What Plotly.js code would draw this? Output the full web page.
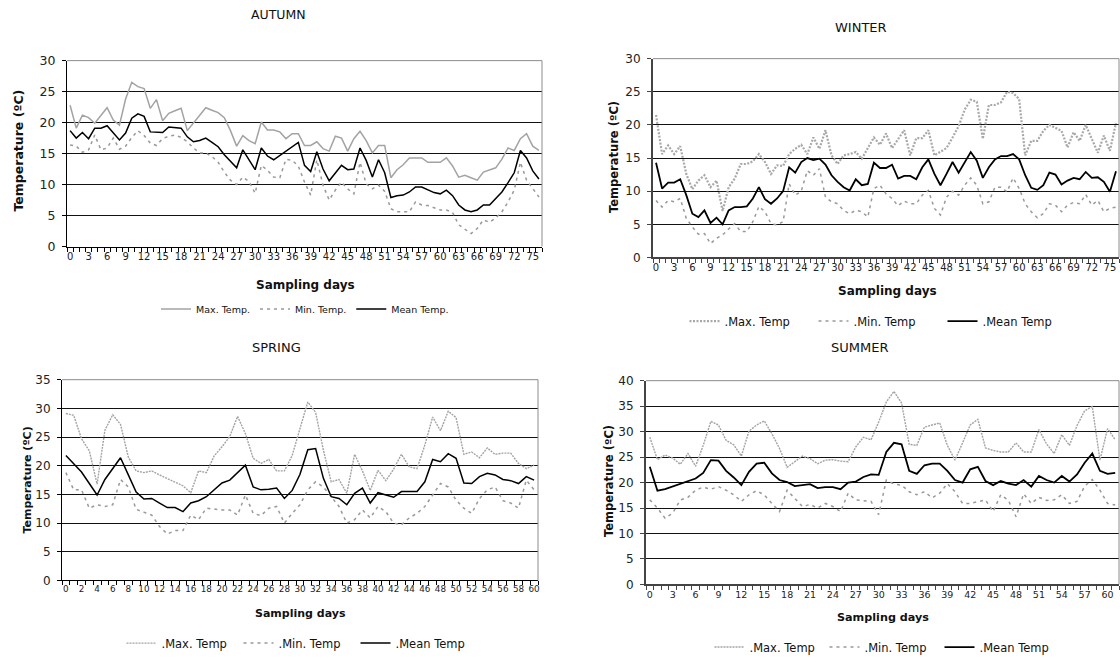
<!DOCTYPE html>
<html>
<head>
<meta charset="utf-8">
<script src="https://cdn.plot.ly/plotly-3.0.1.min.js"></script>
<style>html,body{margin:0;padding:0;background:#fff;}#chart{width:1120px;height:662px;}</style>
</head>
<body>
<div id="chart"></div>
<script>
// ---------------- DATA ----------------
var seasonTitles = ["AUTUMN", "WINTER", "SPRING", "SUMMER"];
var xTitle = "Sampling days";
var yTitle = "Temperature (ºC)";
var autumnNames = ["Max. Temp.", "Min. Temp.", "Mean Temp."];
var otherNames = [".Max. Temp", ".Min. Temp", ".Mean Temp"];

var autumnMax = [22.8,19.1,21.2,20.8,19.9,21.1,22.4,20.4,19.6,23.8,
  26.5,25.8,25.5,22.3,23.7,20.3,21.5,21.9,22.3,18.7,
  19.9,21.2,22.4,22.0,21.6,20.8,18.7,16.2,17.9,17.1,
  16.6,20.1,18.8,18.8,18.5,17.4,18.2,18.2,16.3,16.3,
  16.9,15.8,15.4,17.8,17.5,15.4,17.4,18.6,17.1,15.1,
  16.3,16.3,11.1,12.4,13.2,14.3,14.3,14.3,13.6,13.6,
  13.6,14.3,13.0,11.2,11.5,11.1,10.7,12.0,12.4,12.7,
  14.1,15.9,15.5,17.4,18.2,16.2,15.5];
var autumnMin = [16.4,16.2,15.2,15.6,18.0,15.6,15.9,17.5,15.7,16.2,
  17.6,18.7,17.9,16.7,16.3,17.4,17.8,18.0,17.6,16.9,
  15.9,15.1,15.1,14.5,13.6,12.0,10.7,10.0,11.2,10.5,
  8.6,13.1,12.3,11.2,11.1,14.1,13.9,13.0,10.4,8.3,
  14.0,9.9,7.5,9.1,10.4,9.3,8.5,13.6,10.1,9.3,
  9.9,8.9,6.1,5.6,5.6,5.6,7.2,6.7,6.6,6.2,
  5.9,5.9,5.5,3.5,2.8,2.1,2.9,4.3,3.9,4.6,
  5.6,7.2,9.1,13.6,10.7,9.3,8.0];
var autumnMean = [18.7,17.5,18.4,17.4,19.1,19.1,19.5,18.3,17.2,18.3,
  20.7,21.4,21.0,18.5,18.5,18.4,19.3,19.2,19.1,17.7,
  16.9,17.1,17.5,16.8,16.1,14.8,13.7,12.7,15.6,14.0,
  12.4,15.9,14.6,14.0,14.7,15.5,16.1,16.8,13.1,12.1,
  15.3,12.5,10.6,11.9,13.1,12.4,12.5,15.9,13.9,11.2,
  14.0,11.9,7.9,8.2,8.3,8.8,9.6,9.6,9.2,8.7,
  8.5,9.1,8.2,6.7,5.9,5.6,5.9,6.7,6.7,7.7,
  8.8,10.3,11.9,15.5,14.3,12.2,10.9];

var winterMax = [21.5,15.6,16.9,15.6,16.8,12.6,10.3,11.6,12.4,10.6,
  11.6,7.0,10.6,11.9,14.1,14.1,14.5,15.6,14.4,12.6,
  13.9,13.8,15.6,16.4,17.0,15.6,18.1,16.4,19.2,15.4,
  14.1,15.4,15.6,15.9,14.9,16.6,18.1,17.0,18.7,16.5,
  17.9,19.2,15.4,18.0,18.0,19.2,15.4,16.0,16.5,18.1,
  19.8,22.3,23.8,23.5,17.9,23.0,23.0,23.4,25.0,24.8,
  23.9,15.4,17.6,17.6,19.1,20.0,19.5,19.1,16.6,18.9,
  17.6,20.0,17.9,15.8,18.4,16.1,20.3];
var winterMin = [8.6,7.6,8.6,8.4,8.9,5.9,4.6,3.5,3.6,2.1,
  2.9,3.4,4.3,5.1,3.9,3.9,5.4,7.7,6.9,5.1,
  4.9,5.4,11.1,9.4,10.0,13.1,12.4,13.4,9.1,8.4,
  8.1,7.1,6.6,7.1,6.9,6.1,10.4,10.9,9.6,8.9,
  7.8,8.5,8.1,8.1,9.4,10.1,7.4,6.4,9.1,10.0,
  9.4,10.9,12.0,10.9,8.1,8.4,10.6,10.6,9.9,12.0,
  10.4,8.1,6.9,6.0,6.6,8.1,7.9,6.9,7.9,8.3,
  8.1,9.5,7.9,8.6,6.9,7.4,7.6];
var winterMean = [14.3,10.4,11.3,11.3,11.8,9.4,6.6,6.1,7.1,5.2,
  6.0,5.0,7.1,7.6,7.6,7.7,8.9,10.6,8.8,8.1,
  8.9,10.0,13.6,12.8,14.4,15.0,14.7,14.9,14.0,12.4,
  11.4,10.6,10.1,11.8,10.9,11.1,14.3,13.5,13.5,14.0,
  11.9,12.3,12.3,11.8,13.6,14.8,12.6,10.9,12.6,14.4,
  12.8,14.4,15.9,14.6,12.0,13.6,14.8,15.3,15.3,15.6,
  14.8,12.4,10.5,10.2,10.9,12.8,12.5,11.0,11.6,12.0,
  11.8,12.9,12.0,12.1,11.4,9.9,13.0];

var springMax = [29.1,28.8,24.7,22.6,16.8,26.2,28.9,27.2,21.5,19.1,
  18.8,19.1,18.4,17.8,17.2,16.5,15.3,19.1,18.8,21.7,
  23.3,25.1,28.6,25.6,21.3,20.4,21.1,19.1,19.1,21.8,
  26.5,31.1,29.3,22.7,17.2,17.6,15.2,22.0,19.1,15.7,
  19.2,17.4,19.4,22.0,19.8,19.5,23.6,28.5,26.1,29.5,
  28.4,22.0,22.4,21.4,23.1,22.0,22.2,22.2,20.4,19.5,
  20.1];
var springMin = [18.8,15.8,15.8,12.6,13.2,12.9,13.2,17.6,16.3,12.4,
  11.9,11.4,9.4,8.1,8.7,8.7,11.4,10.6,12.6,12.4,
  12.3,12.3,11.4,14.9,11.7,11.3,12.6,12.9,10.0,11.7,
  13.2,15.8,17.2,16.3,14.6,12.9,10.0,10.6,12.3,10.9,
  12.9,12.0,10.0,9.7,10.9,11.7,12.9,14.9,16.9,16.3,
  14.0,12.6,11.7,14.3,15.8,16.3,13.9,13.5,12.6,17.5,
  15.8];
var springMean = [21.8,20.4,18.9,16.9,14.9,17.6,19.5,21.4,18.4,15.4,
  14.2,14.3,13.5,12.7,12.7,12.0,13.5,13.9,14.6,15.8,
  17.0,17.5,18.8,20.1,16.3,15.8,15.9,16.1,14.3,15.7,
  18.5,22.8,23.0,17.8,14.6,14.3,13.2,15.2,16.1,13.5,
  15.3,14.9,14.5,15.5,15.5,15.5,17.2,21.1,20.7,22.1,
  21.3,17.0,16.9,18.1,18.7,18.4,17.6,17.4,16.9,18.1,
  17.5];

var summerMax = [28.9,24.5,25.4,24.8,23.6,25.7,23.2,27.3,32.0,31.3,
  28.3,27.4,25.2,30.1,31.3,32.1,29.6,26.7,23.0,24.1,
  25.2,24.7,23.7,24.4,24.5,24.2,24.1,27.0,28.9,28.4,
  31.9,35.8,37.9,35.6,27.5,27.3,30.9,31.3,31.7,27.3,
  24.4,27.8,31.3,32.4,26.8,26.3,26.0,26.0,27.8,26.0,
  26.0,30.4,27.6,25.7,29.4,27.3,31.2,34.1,34.9,24.4,
  30.6,28.4];
var summerMin = [16.6,15.0,13.0,14.0,16.6,17.1,18.5,19.1,18.7,19.2,
  18.5,17.6,16.3,17.6,18.4,17.6,15.9,14.3,18.5,16.9,
  15.3,15.7,15.0,15.9,15.3,14.3,17.9,16.6,16.5,16.3,
  13.7,20.5,19.7,19.5,18.2,17.6,18.2,17.0,17.9,19.8,
  18.2,15.9,15.9,16.3,16.6,14.3,17.6,16.5,13.3,17.8,
  15.9,17.1,16.5,16.6,17.6,15.9,16.3,19.3,20.6,18.5,
  15.9,15.6];
var summerMean = [23.1,18.4,18.7,19.2,19.8,20.3,20.8,21.9,24.4,24.3,
  22.3,21.0,19.5,22.1,23.7,23.9,21.8,20.5,20.1,19.3,
  19.5,19.7,18.9,19.1,19.1,18.7,20.0,20.2,21.1,21.6,
  21.5,26.0,27.8,27.5,22.3,21.7,23.4,23.7,23.7,22.3,
  20.5,20.0,22.6,23.1,20.3,19.5,20.3,19.8,19.5,20.5,
  19.2,21.3,20.5,20.0,21.3,20.2,21.6,23.9,25.7,22.3,
  21.7,21.9];

// ---------------- LAYOUT HELPERS ----------------
var W = 1120, H = 662;
var FONT = "DejaVu Sans, Verdana, sans-serif";
function px(x) { return x / W; }
function py(y) { return 1 - y / H; }

var panels = [
  {x0: 67, x1: 542, yTop: 61, yBot: 248, ymax: 30, n: 77, dtick: 3, xfs: 10, yfs: 12.5, lw: 1, axc: '#000',
   title: [278, 15, 12.5], xt: [305, 287, 12], yt: [18.5, 152, 12.5], leg: [305, 311, 9.5], ew: 0,
   data: [autumnMax, autumnMin, autumnMean], names: autumnNames,
   maxStyle: {color: '#a3a3a3', width: 1.5}},
  {x0: 653, x1: 1119, yTop: 59, yBot: 259, ymax: 30, n: 77, dtick: 3, xfs: 10, yfs: 12, lw: 2, axc: '#444',
   title: [861, 28, 13], xt: [887, 293, 12], yt: [614, 158, 11.5], leg: [878, 323, 11.5], ew: 84,
   data: [winterMax, winterMin, winterMean], names: otherNames,
   maxStyle: {color: '#a8a8a8', width: 2.2, dash: '2px,1.5px'}},
  {x0: 62, x1: 538, yTop: 382, yBot: 584, ymax: 35, n: 61, dtick: 2, xfs: 8.8, yfs: 12, lw: 1, axc: '#000',
   title: [276, 350, 13], xt: [300, 617, 11], yt: [27.5, 483, 11], leg: [297, 647, 11.5], ew: 72,
   data: [springMax, springMin, springMean], names: otherNames,
   maxStyle: {color: '#a3a3a3', width: 1.4, dash: '2px,1px'}},
  {x0: 646, x1: 1119, yTop: 383, yBot: 588, ymax: 40, n: 62, dtick: 3, xfs: 9.5, yfs: 12, lw: 2, axc: '#444',
   title: [859, 350, 13], xt: [883, 621, 11.2], yt: [609, 484, 11.5], leg: [882, 651, 11.5], ew: 70,
   data: [summerMax, summerMin, summerMean], names: otherNames,
   maxStyle: {color: '#a3a3a3', width: 1.4, dash: '2px,1px'}}
];

var traces = [];
var layout = {
  width: W, height: H,
  margin: {l: 0, r: 0, t: 0, b: 0},
  paper_bgcolor: '#fff', plot_bgcolor: '#fff',
  font: {family: FONT, color: '#000'},
  showlegend: true,
  annotations: [], shapes: []
};

panels.forEach(function (p, i) {
  var k = i === 0 ? '' : String(i + 1);
  var xa = 'x' + k, ya = 'y' + k, lg = 'legend' + k;
  var minStyle = {color: '#999', width: 1.5, dash: '3px,4px'};
  var meanStyle = {color: '#000', width: i % 2 === 1 ? 1.8 : 1.5};
  var styles = [p.maxStyle, minStyle, meanStyle];
  for (var s = 0; s < 3; s++) {
    traces.push({
      type: 'scatter', mode: 'lines', y: p.data[s], x0: 0, dx: 1,
      name: p.names[s], xaxis: xa, yaxis: ya, legend: lg,
      line: styles[s], hoverinfo: 'skip'
    });
  }
  layout['xaxis' + k] = {
    domain: [px(p.x0), px(p.x1)], anchor: ya,
    range: [-0.5, p.n - 0.5], tickmode: 'linear', tick0: 0, dtick: p.dtick,
    ticks: '', showgrid: false, zeroline: false,
    showline: true, linecolor: p.axc, linewidth: p.lw,
    tickfont: {size: p.xfs, family: FONT, color: '#222'},
    minor: {tickmode: 'linear', tick0: -0.5, dtick: 1, ticks: 'outside', ticklen: 4,
            tickcolor: p.axc, tickwidth: 1, showgrid: false},
    fixedrange: true
  };
  layout['yaxis' + k] = {
    domain: [py(p.yBot), py(p.yTop)], anchor: xa,
    range: [0, p.ymax], tickmode: 'linear', tick0: 0, dtick: 5,
    ticks: 'outside', ticklen: 4, tickcolor: p.axc,
    ticklabelstandoff: 4,
    showgrid: true, gridcolor: '#111', gridwidth: 1,
    zeroline: false, showline: true, linecolor: p.axc, linewidth: p.lw,
    tickfont: {size: p.yfs, family: FONT, color: '#222'},
    fixedrange: true
  };
  // gray top & right border of plot area
  layout.shapes.push({type: 'line', xref: xa + ' domain', yref: ya + ' domain', x0: 0, x1: 1, y0: 1, y1: 1,
    line: {color: '#8c8c8c', width: 1}});
  layout.shapes.push({type: 'line', xref: xa + ' domain', yref: ya + ' domain', x0: 1, x1: 1, y0: 0, y1: 1,
    line: {color: '#8c8c8c', width: 1}});
  // panel title
  layout.annotations.push({text: seasonTitles[i], xref: 'paper', yref: 'paper',
    x: px(p.title[0]), y: py(p.title[1]), xanchor: 'center', yanchor: 'middle', showarrow: false,
    font: {size: p.title[2], family: FONT, color: '#111'}});
  // x axis title
  layout.annotations.push({text: xTitle, xref: 'paper', yref: 'paper',
    x: px(p.xt[0]), y: py(p.xt[1]), xanchor: 'center', yanchor: 'middle', showarrow: false,
    font: {size: p.xt[2], family: FONT, color: '#111', weight: 'bold'}});
  // y axis title
  layout.annotations.push({text: yTitle, xref: 'paper', yref: 'paper', textangle: -90,
    x: px(p.yt[0]), y: py(p.yt[1]), xanchor: 'center', yanchor: 'middle', showarrow: false,
    font: {size: p.yt[2], family: FONT, color: '#111', weight: 'bold'}});
  var leg = {
    orientation: 'h', x: px(p.leg[0]), y: py(p.leg[1]), xanchor: 'center', yanchor: 'middle',
    font: {size: p.leg[2], family: FONT, color: '#111'}, bgcolor: 'rgba(0,0,0,0)',
    itemclick: false, itemdoubleclick: false, tracegroupgap: 0
  };
  if (p.ew) { leg.entrywidth = p.ew; leg.entrywidthmode = 'pixels'; }
  layout[lg] = leg;
});

Plotly.newPlot('chart', traces, layout, {staticPlot: true, displayModeBar: false});
</script>
</body>
</html>
